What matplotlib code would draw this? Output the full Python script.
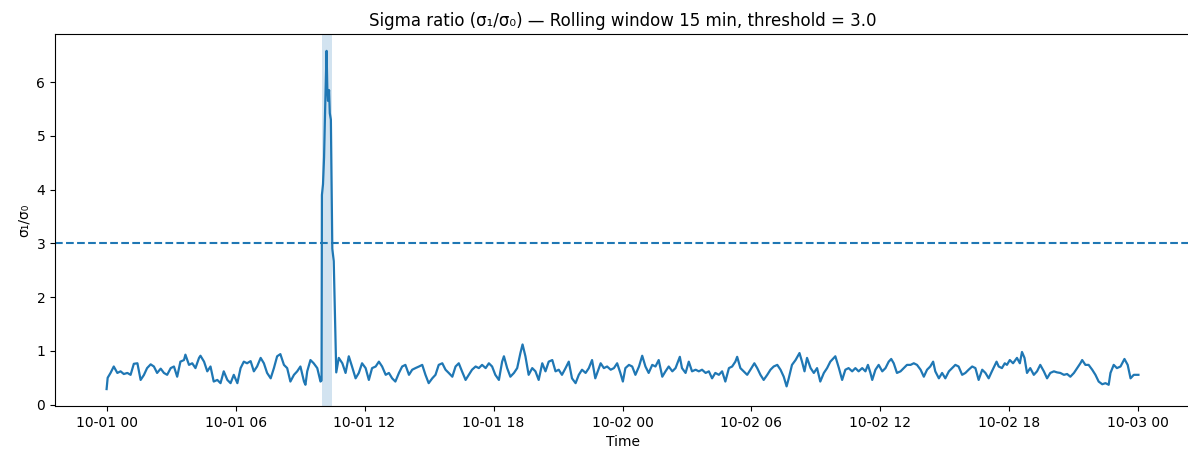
import numpy as np
import pandas as pd
import matplotlib
matplotlib.use("Agg")
import matplotlib.pyplot as plt
import matplotlib.dates as mdates

# minutes since 10-01 00:00
start = "2024-10-01 00:00"
minutes = [
    0, 3, 11, 20, 30, 39, 48, 58, 67, 76, 86, 95, 104, 113, 123, 132, 141, 151, 160, 169,
    179, 188, 197, 206, 216, 220, 230, 239, 248, 258, 262, 272, 281, 290, 299, 309, 318, 327,
    337, 346, 355, 365, 374, 383, 392, 402, 411, 420, 430, 439, 448, 458, 467, 476, 485, 495,
    504, 513, 523, 532, 541, 551, 555, 560, 569, 578, 588, 597,
    # event
    600, 601, 604, 607, 610, 614, 616, 618, 621, 623, 626, 630, 634, 641,
    648, 658, 667, 676, 685, 695, 704, 713, 723, 732, 741, 751, 760, 769, 779, 788, 797, 806,
    816, 825, 834, 844, 853, 862, 872, 881, 890, 899, 909, 918, 927, 937, 946, 955, 965, 974,
    983, 992, 1002, 1011, 1020, 1030, 1039, 1048, 1058, 1067, 1076, 1085, 1095, 1104, 1109,
    1118, 1127, 1137, 1146, 1155, 1161, 1169, 1178, 1188, 1197, 1206, 1216, 1225, 1234, 1244,
    1253, 1262, 1271, 1281, 1290, 1299, 1309, 1318, 1327, 1337, 1346, 1355, 1364, 1374,
    1379, 1388, 1397, 1407, 1416, 1425, 1434, 1441, 1448, 1458, 1467, 1476, 1486, 1495, 1504,
    1513, 1523, 1532, 1541, 1551, 1560, 1569, 1579, 1588, 1600, 1606, 1616, 1625, 1634, 1644,
    1653, 1662, 1672, 1681, 1690, 1699, 1709, 1718, 1727, 1737, 1746, 1755, 1760, 1769, 1778,
    1788, 1797, 1808, 1816, 1825, 1834, 1844, 1853, 1862, 1872, 1881, 1890, 1898, 1904, 1913,
    1923, 1934, 1941, 1948, 1955, 1965, 1974, 1983, 1992, 2002, 2011, 2020, 2034, 2044, 2053,
    2062, 2071, 2081, 2090, 2099, 2109, 2118, 2125, 2132,
    2137, 2146, 2155, 2165, 2174, 2183, 2190, 2197, 2206, 2216, 2225, 2234, 2244, 2253, 2262,
    2272, 2281, 2290, 2299, 2307, 2313, 2323, 2332, 2341, 2351, 2360, 2369, 2378, 2388, 2397,
    2406, 2416, 2425, 2434, 2444, 2453, 2462, 2471, 2484, 2490, 2499, 2507, 2513, 2521, 2530,
    2541, 2549, 2555, 2562, 2569, 2578, 2588, 2597, 2606, 2616, 2625,
    2634, 2644, 2653, 2662, 2672, 2681, 2690, 2700, 2709, 2718, 2723, 2732, 2741, 2751, 2760,
    2769, 2779, 2788, 2797, 2802, 2811, 2820, 2830, 2841, 2850, 2858, 2867, 2880,
]
ratio = [
    0.29, 0.50, 0.59, 0.71, 0.59, 0.62, 0.57, 0.59, 0.555, 0.76, 0.77, 0.46, 0.55, 0.68, 0.75, 0.71, 0.59, 0.67, 0.59, 0.555,
    0.68, 0.71, 0.52, 0.80, 0.83, 0.93, 0.74, 0.77, 0.68, 0.87, 0.91, 0.80, 0.62, 0.71, 0.43, 0.46, 0.40, 0.62,
    0.46, 0.40, 0.555, 0.40, 0.68, 0.80, 0.77, 0.81, 0.62, 0.71, 0.87, 0.77, 0.59, 0.49, 0.68, 0.90, 0.94, 0.74,
    0.68, 0.43, 0.555, 0.62, 0.71, 0.43, 0.37, 0.62, 0.83, 0.77, 0.68, 0.43,
    0.45, 3.9, 4.1, 4.6, 5.5, 6.58, 5.9, 5.65, 5.85, 5.42, 5.3, 2.9, 2.67, 0.6,
    0.87, 0.77, 0.59, 0.90, 0.71, 0.49, 0.59, 0.77, 0.68, 0.46, 0.68, 0.71, 0.80, 0.71, 0.555, 0.59, 0.49, 0.43,
    0.59, 0.71, 0.74, 0.555, 0.65, 0.68, 0.71, 0.74, 0.555, 0.40, 0.49, 0.555, 0.74, 0.77, 0.65, 0.59, 0.52, 0.71,
    0.77, 0.62, 0.46, 0.555, 0.65, 0.71, 0.68, 0.74, 0.68, 0.77, 0.71, 0.555, 0.46, 0.80, 0.90,
    0.68, 0.52, 0.59, 0.68, 0.96, 1.12, 0.90, 0.555, 0.68, 0.62, 0.46, 0.77, 0.62, 0.80, 0.83,
    0.62, 0.65, 0.555, 0.68, 0.80, 0.49, 0.40, 0.555, 0.65, 0.59, 0.68, 0.83, 0.49, 0.68,
    0.77, 0.68, 0.71, 0.65, 0.68, 0.77, 0.59, 0.43, 0.68, 0.74, 0.71, 0.555, 0.71, 0.91, 0.71,
    0.59, 0.74, 0.71, 0.83, 0.52, 0.62, 0.71, 0.62, 0.68, 0.89, 0.68, 0.59, 0.80, 0.62, 0.65,
    0.62, 0.65, 0.59, 0.62, 0.49, 0.59, 0.555, 0.62, 0.43, 0.68, 0.71, 0.80, 0.89, 0.68, 0.62,
    0.555, 0.65, 0.77, 0.68, 0.555, 0.46, 0.555, 0.65, 0.71, 0.74, 0.65, 0.52, 0.34, 0.49, 0.74,
    0.83, 0.96, 0.80, 0.62, 0.87, 0.68, 0.59, 0.68, 0.43, 0.59, 0.68, 0.80, 0.90, 0.68, 0.46,
    0.65, 0.68, 0.62, 0.68, 0.62, 0.68, 0.62, 0.74, 0.59,
    0.46, 0.65, 0.74, 0.62, 0.68, 0.80, 0.85, 0.77, 0.59, 0.62, 0.68, 0.74, 0.74, 0.77, 0.74,
    0.65, 0.52, 0.65, 0.71, 0.80, 0.62, 0.49, 0.59, 0.49, 0.62, 0.68, 0.74, 0.71, 0.555, 0.59,
    0.65, 0.71, 0.68, 0.46, 0.65, 0.59, 0.49, 0.62, 0.80, 0.71, 0.68, 0.77, 0.74, 0.83, 0.77,
    0.87, 0.77, 0.98, 0.87, 0.59, 0.68, 0.555, 0.62, 0.74, 0.62, 0.49,
    0.59, 0.62, 0.60, 0.59, 0.555, 0.57, 0.52, 0.59, 0.68, 0.77, 0.83, 0.74, 0.74, 0.65, 0.555,
    0.43, 0.38, 0.40, 0.37, 0.59, 0.74, 0.68, 0.71, 0.85, 0.74, 0.49, 0.555, 0.555,
]
threshold = 3.0
event_start = "2024-10-01 10:00"
event_end = "2024-10-01 10:30"

times = pd.Timestamp(start) + pd.to_timedelta(minutes, unit="min")

fig = plt.figure(figsize=(11.88, 4.59), dpi=100)
ax = fig.add_axes([0.0463, 0.1155, 0.9554, 0.8105])

ax.plot(times, ratio, color="C0", lw=1.6)
ax.axhline(threshold, color="C0", ls="--", lw=1.5)
ax.axvspan(pd.Timestamp(event_start), pd.Timestamp(event_end), color="C0", alpha=0.2, lw=0)

ax.xaxis.set_major_locator(mdates.HourLocator(byhour=[0, 6, 12, 18]))
ax.xaxis.set_major_formatter(mdates.DateFormatter("%m-%d %H"))
ax.set_xlabel("Time")
ax.set_ylabel("σ₁/σ₀")
ax.set_title("Sigma ratio (σ₁/σ₀) — Rolling window 15 min, threshold = 3.0")

fig.savefig("out.png", dpi=100)
